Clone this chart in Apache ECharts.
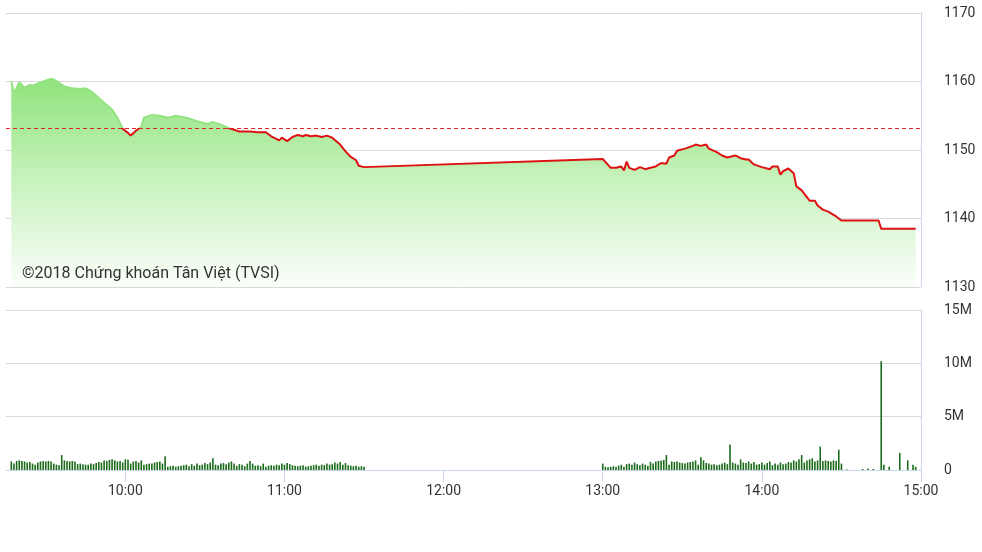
<!DOCTYPE html>
<html>
<head>
<meta charset="utf-8">
<script src="https://cdn.jsdelivr.net/npm/echarts@6/dist/echarts.min.js"></script>
<style>
html,body{margin:0;padding:0;background:#fff;}
#c{width:982px;height:552px;}
</style>
</head>
<body>
<div id="c"></div>
<script>
// ---- data ----
const refPrice = 1153.2;
const priceMin = 1130, priceMax = 1170, priceStep = 10;
const volMax = 15e6, volStep = 5e6;
const timeTicks = ['10:00', '11:00', '12:00', '13:00', '14:00', '15:00'];

const priceTimes = ['09:17','09:18','09:20','09:22','09:24','09:25','09:27','09:29','09:32','09:33','09:35','09:37','09:40','09:43','09:45','09:47','09:50','09:52','09:55','09:57','09:59','10:01','10:02','10:04','10:06','10:07','10:10','10:13','10:16','10:19','10:23','10:27','10:31','10:33','10:36','10:39','10:43','10:47','10:50','10:53','10:55','10:58','10:59','11:01','11:03','11:05','11:07','11:08','11:10','11:12','11:14','11:16','11:18','11:21','11:23','11:25','11:27','11:28','11:30',
'13:00','13:03','13:05','13:07','13:08','13:09','13:10','13:12','13:14','13:16','13:18','13:20','13:22','13:24','13:25','13:27','13:28','13:31','13:34','13:35','13:37','13:39','13:40','13:43','13:45','13:47','13:50','13:52','13:54','13:55','13:57','14:00','14:03','14:04','14:06','14:07','14:08','14:10','14:12','14:13','14:15','14:18','14:20','14:21','14:23','14:25','14:28','14:30','14:44','14:45','14:58'];
const priceValues = [1160.0,1158.3,1159.9,1159.1,1159.5,1159.4,1159.7,1160.0,1160.4,1160.3,1159.8,1159.3,1159.0,1158.9,1159.0,1158.6,1157.6,1156.9,1155.9,1154.7,1153.1,1152.5,1152.1,1152.8,1153.4,1154.7,1155.1,1155.0,1154.7,1155.0,1154.7,1154.2,1153.8,1154.1,1153.7,1153.2,1152.7,1152.7,1152.6,1152.6,1152.0,1151.4,1151.8,1151.3,1151.9,1152.2,1152.0,1152.2,1152.0,1152.1,1151.9,1152.1,1151.8,1150.8,1149.8,1149.0,1148.5,1147.7,1147.5,
1148.7,1147.4,1147.4,1147.6,1147.0,1148.3,1147.4,1147.1,1147.5,1147.2,1147.4,1147.6,1148.1,1148.0,1148.9,1149.2,1149.9,1150.2,1150.6,1150.8,1150.6,1150.8,1150.2,1149.7,1149.2,1148.9,1149.2,1148.8,1148.6,1148.6,1147.9,1147.5,1147.2,1147.6,1147.6,1146.4,1146.9,1147.3,1146.6,1144.7,1144.1,1142.6,1142.6,1141.9,1141.3,1141.0,1140.3,1139.7,1139.7,1138.5,1138.5];

// per-minute volume (millions), morning session from 09:17
const volMorningStart = '09:17';
const volMorning = [
0.8,0.6,0.85,0.9,0.85,0.8,0.7,0.75,0.6,0.5,
0.7,0.8,0.85,0.8,0.85,0.8,0.6,0.5,0.45,1.4,
0.9,0.85,0.8,0.85,0.8,0.55,0.6,0.55,0.5,0.5,
0.6,0.55,0.65,0.75,0.7,0.9,0.85,0.95,1.0,0.9,
0.8,0.85,0.7,1.0,0.95,0.6,0.8,0.85,0.7,0.9,
0.5,0.55,0.6,0.6,0.7,0.75,0.8,0.6,1.3,0.3,
0.35,0.4,0.3,0.35,0.4,0.45,0.5,0.35,0.55,0.4,
0.6,0.45,0.5,0.65,0.55,0.7,1.1,0.5,0.45,0.6,
0.65,0.55,0.7,0.8,0.6,0.4,0.55,0.5,0.35,0.6,
0.85,0.6,0.4,0.45,0.35,0.6,0.3,0.4,0.45,0.4,
0.5,0.45,0.6,0.5,0.65,0.55,0.45,0.4,0.35,0.4,
0.45,0.3,0.35,0.4,0.45,0.5,0.4,0.5,0.45,0.6,
0.5,0.55,0.7,0.6,0.75,0.5,0.65,0.45,0.4,0.35,
0.4,0.3,0.35,0.3];
// afternoon session from 13:00
const volAfternoonStart = '13:00';
const volAfternoon = [
0.6,0.3,0.25,0.3,0.35,0.3,0.4,0.5,0.3,0.55,
0.6,0.5,0.7,0.55,0.45,0.6,0.5,0.4,0.75,0.6,
0.8,0.85,0.9,0.95,1.4,0.5,0.8,0.75,0.8,0.7,
0.65,0.6,0.7,0.75,0.8,0.9,0.5,1.2,0.9,0.65,
0.6,0.5,0.55,0.45,0.5,0.6,0.7,0.55,2.4,0.7,
0.6,0.5,1.0,0.7,0.65,0.8,0.6,0.75,0.5,0.55,
0.7,0.5,0.65,0.8,0.45,0.6,0.5,0.7,0.55,0.6,
0.75,0.7,0.9,0.8,1.0,1.4,0.7,0.9,1.0,1.1,
0.8,0.9,2.2,0.85,0.9,0.85,0.8,0.9,0.85,1.9,
0.6];
const atcTimes = ['14:32','14:38','14:40','14:42','14:45','14:46','14:48','14:52','14:55','14:57','14:58'];
const atcValues = [0.05,0.1,0.15,0.1,10.2,0.5,0.3,1.6,0.9,0.5,0.3];

// ---- build ----
function toMin(t){ const p = t.split(':'); return (+p[0])*60 + (+p[1]); }
function fmt(m){ const h = Math.floor(m/60), mm = m%60; return (h<10?'0':'')+h+':'+(mm<10?'0':'')+mm; }

const priceData = priceTimes.map((t,i)=>[toMin(t), priceValues[i]]);
const volData = [];
volMorning.forEach((v,i)=>volData.push([toMin(volMorningStart)+i, v*1e6]));
volAfternoon.forEach((v,i)=>volData.push([toMin(volAfternoonStart)+i, v*1e6]));
atcTimes.forEach((t,i)=>volData.push([toMin(t), atcValues[i]*1e6]));

const xMin = toMin('09:15'), xMax = toMin('15:00');
const tickVals = timeTicks.map(toMin);
const font = 'Roboto';
const axisColor = '#ccd6eb';
const gridColor = '#d9d9d9';

const g0 = {left: 6, right: 61, top: 13, height: 274};
const g1 = {left: 6, right: 61, top: 310, height: 160};
// line colour: green above reference price, red below (global gradient over price grid)
const refFrac = (priceMax - refPrice) / (priceMax - priceMin);
const upColor = '#93e381', downColor = '#dd1111';
const lineGrad = new echarts.graphic.LinearGradient(0, g0.top, 0, g0.top + g0.height, [
  {offset:0, color:upColor}, {offset:refFrac, color:upColor},
  {offset:refFrac, color:downColor}, {offset:1, color:downColor}
], true);

const chart = echarts.init(document.getElementById('c'), null, {renderer:'canvas'});
chart.setOption({
  animation: false,
  backgroundColor: '#fff',
  grid: [g0, g1],
  xAxis: [
    {type:'value', gridIndex:0, min:xMin, max:xMax, show:false, splitLine:{show:false}},
    {type:'value', gridIndex:1, min:xMin, max:xMax,
     axisLine:{show:true, lineStyle:{color:axisColor, width:1}},
     axisTick:{show:true, length:12, lineStyle:{color:axisColor}, customValues: tickVals},
     axisLabel:{show:true, customValues: tickVals, formatter: v=>fmt(v), color:'#333', fontSize:14, fontFamily:font, margin:14},
     splitLine:{show:false}}
  ],
  yAxis: [
    {type:'value', gridIndex:0, position:'right', min:priceMin, max:priceMax, interval:priceStep,
     axisLine:{show:true, lineStyle:{color:axisColor}},
     axisTick:{show:false},
     axisLabel:{color:'#333', fontSize:14, fontFamily:font, margin:23, formatter: v=>String(v)},
     splitLine:{show:true, lineStyle:{color:gridColor, width:1}}},
    {type:'value', gridIndex:1, position:'right', min:0, max:volMax, interval:volStep,
     axisLine:{show:true, lineStyle:{color:axisColor}},
     axisTick:{show:false},
     axisLabel:{color:'#333', fontSize:14, fontFamily:font, margin:23, formatter: v=> v===0 ? '0' : (v/1e6)+'M'},
     splitLine:{show:true, lineStyle:{color:gridColor, width:1}}}
  ],
  series: [
    {type:'line', xAxisIndex:0, yAxisIndex:0, data: priceData, symbol:'none', silent:true,
     lineStyle:{width:0, color:upColor},
     areaStyle:{origin:'start', opacity:1, color: new echarts.graphic.LinearGradient(0,0,0,1,[
       {offset:0, color:'#8fe37c'},
       {offset:0.45, color:'#c3f1b8'},
       {offset:1, color:'#fbfefb'}
     ])},
     markLine:{silent:true, symbol:'none', label:{show:false},
       lineStyle:{color:'#dd2222', type:[4,3], width:1},
       data:[{yAxis: refPrice}]},
     z:1},
    {type:'line', xAxisIndex:0, yAxisIndex:0, data: priceData, symbol:'none', silent:true,
     lineStyle:{width:2, color: lineGrad},
     z:3},
    {type:'bar', xAxisIndex:1, yAxisIndex:1, data: volData, barWidth:1.6, silent:true,
     itemStyle:{color:'#1b6b1b'}}
  ],
  graphic: [{
    type:'text', left:22, top:266,
    style:{text:'©2018 Chứng khoán Tân Việt (TVSI)', fill:'#333', font:'16px Roboto'},
    z:10
  }]
});
</script>
</body>
</html>
